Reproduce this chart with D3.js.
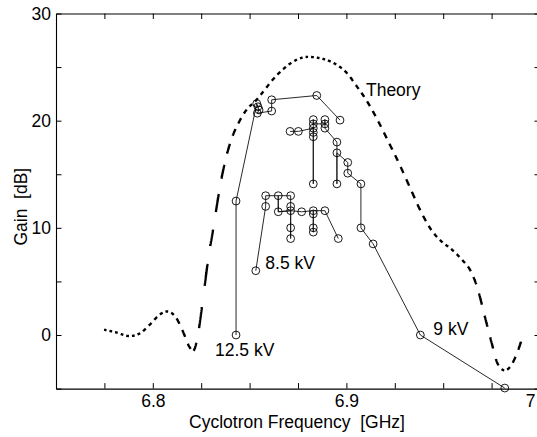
<!DOCTYPE html>
<html><head><meta charset="utf-8">
<script src="https://cdn.jsdelivr.net/npm/d3@7"></script>
<style>
body{margin:0;background:#fff;}
svg{display:block;}
text{font-family:"Liberation Sans",Arial,Helvetica,sans-serif;fill:#000;}
</style></head><body>
<svg id="c" width="537" height="437"></svg>
<script>
// ---- data ----
const theoryFreq=[6.7747,6.7809,6.788,6.7933,6.7986,6.8039,6.8074,6.8119,6.8154,6.8189,6.8207,6.8234,6.8251,6.8269,6.8287,6.8313,6.834,6.8366,6.8402,6.8446,6.849,6.8526,6.857,6.8623,6.8676,6.8729,6.88,6.8871,6.8942,6.9005,6.9050,6.9100,6.9160,6.9218,6.9275,6.9330,6.9384,6.9437,6.949,6.9543,6.9596,6.9641,6.9676,6.9712,6.9747,6.9782,6.9818,6.9844,6.988,6.9906];
const theoryGain=[0.5,0.25,-0.1,0.15,1.0,1.95,2.2,1.65,0.4,-1.1,-1.5,0.1,2.25,4.75,7.2,10.0,13.1,15.6,18.05,19.9,21.15,21.75,22.7,23.9,24.85,25.55,25.95,25.8,25.3,24.4,23.3,22.0,20.1,18.0,15.9,13.7,11.55,9.85,8.75,8.0,7.05,6.0,4.45,1.95,-0.5,-2.7,-3.3,-3.0,-1.75,-0.4];

const freq125=[6.843,6.843,6.8537,6.8543,6.8549,6.8540,6.8614,6.8614,6.8847,6.8967];
const gain125=[0,12.5,21.6,21.3,21.0,20.7,20.9,21.95,22.35,20.05];

const freq9=[6.8709,6.8752,6.8829,6.8829,6.8829,6.8829,6.8829,6.8829,6.8889,6.8889,6.8889,6.8951,6.8951,6.8951,6.8951,6.9007,6.9007,6.9075,6.9075,6.9138,6.9382,6.9818];
const gain9=[19.0,19.0,19.3,18.9,18.5,14.1,20.1,19.7,19.7,20.1,19.3,18.0,17.0,14.1,17.0,16.1,15.1,14.1,10.0,8.5,0,-4.95];

const freq85=[6.8532,6.8583,6.8583,6.8648,6.8712,6.8712,6.8712,6.8712,6.8712,6.8712,6.8648,6.8648,6.8648,6.8712,6.8769,6.8829,6.8829,6.8829,6.8829,6.8829,6.8889,6.8958];
const gain85=[6.0,12.0,13.0,13.0,13.0,12.0,11.6,10.0,9.0,11.6,11.5,13.0,11.5,11.6,11.5,11.6,11.3,10.0,9.6,11.6,11.6,9.0];

const xMinorTicks=[6.775,6.8,6.825,6.85,6.875,6.9,6.925,6.95,6.975,7.0];
const xTickLabels={"6.8":"6.8","6.9":"6.9","7":"7"};
const yMinorTicks=[-5,0,5,10,15,20,25,30];
const yTickLabels={"0":"0","10":"10","20":"20","30":"30"};
const xTitle="Cyclotron Frequency  [GHz]";
const yTitle="Gain  [dB]";
const labels={s125:"12.5 kV",s9:"9 kV",s85:"8.5 kV",theory:"Theory"};

// ---- layout ----
const L=56,R=540,T=13.5,B=388.6;
const FS=17.5;
const svg=d3.select("#c");
const x=d3.scaleLinear().domain([6.75,7.0]).range([L,R]);
const y=d3.scaleLinear().domain([-5,30]).range([B,T]);

// axes
const fmtX=d=>{const k=String(+d.toFixed(3));return xTickLabels[k]||"";};
const fmtY=d=>yTickLabels[String(d)]||"";
const gx=svg.append("g").attr("transform",`translate(0,${B})`)
  .call(d3.axisBottom(x).tickValues(xMinorTicks).tickSizeInner(-5.5).tickSizeOuter(0).tickPadding(6).tickFormat(fmtX));
const gy=svg.append("g").attr("transform",`translate(${L},0)`)
  .call(d3.axisLeft(y).tickValues(yMinorTicks).tickSizeInner(-5.5).tickSizeOuter(0).tickPadding(5).tickFormat(fmtY));
const gt=svg.append("g").attr("transform",`translate(0,${T})`)
  .call(d3.axisTop(x).tickValues(xMinorTicks).tickSizeInner(-5.5).tickSizeOuter(0).tickFormat(""));
const gr=svg.append("g").attr("transform",`translate(${R},0)`)
  .call(d3.axisRight(y).tickValues(yMinorTicks).tickSizeInner(-5.5).tickSizeOuter(0).tickFormat(""));
[gx,gy,gt,gr].forEach(g=>{
  g.attr("font-family",null).attr("font-size",null);
  g.selectAll("path.domain").attr("stroke","#000").attr("stroke-width",1.1);
  g.selectAll(".tick line").attr("stroke","#000").attr("stroke-width",1);
  g.selectAll(".tick text").style("font-size",FS+"px");
});
gx.selectAll(".tick text").filter(d=>Math.abs(d-7)<1e-9).attr("text-anchor","end").attr("dx",-5);

svg.append("text").attr("x",297).attr("y",428).attr("text-anchor","middle")
  .style("font-size",FS+"px").style("white-space","pre").text(xTitle);
svg.append("text").attr("transform","translate(27,206.7) rotate(-90)").attr("text-anchor","middle")
  .style("font-size",FS+"px").style("white-space","pre").text(yTitle);

// theory curve: dots with fixed spacing along frequency (they stretch into dashes on steep parts)
const line=d3.line().x(d=>x(d[0])).y(d=>y(d[1])).curve(d3.curveMonotoneX);
const thPts=theoryFreq.map((f,i)=>[f,theoryGain[i]]);
const tmp=svg.append("path").attr("d",line(thPts)).attr("fill","none").attr("stroke","none");
const node=tmp.node();const len=node.getTotalLength();
const P=5.6,ON=0.52*P,x0=x(theoryFreq[0]);
let dStr="",inRun=false;
for(let s=0;s<=len;s+=0.25){
  const p=node.getPointAtLength(s);
  const ph=((p.x-x0)%P+P)%P;
  if(ph<ON){dStr+=(inRun?"L":"M")+p.x.toFixed(2)+","+p.y.toFixed(2);inRun=true;}
  else inRun=false;
}
tmp.remove();
svg.append("path").attr("d",dStr).attr("fill","none").attr("stroke","#000").attr("stroke-width",2.4);

// measured series
function drawSeries(fr,ga){
  const pts=fr.map((f,i)=>[f,ga[i]]);
  svg.append("path").attr("d",d3.line().x(d=>x(d[0])).y(d=>y(d[1]))(pts))
    .attr("fill","none").attr("stroke","#111").attr("stroke-width",0.9);
  const seen=new Set();
  const uniq=pts.filter(p=>{const k=p.join(",");if(seen.has(k))return false;seen.add(k);return true;});
  svg.append("g").selectAll("circle").data(uniq).join("circle")
    .attr("cx",d=>x(d[0])).attr("cy",d=>y(d[1])).attr("r",3.9)
    .attr("fill","none").attr("stroke","#000").attr("stroke-width",0.9);
}
drawSeries(freq125,gain125);
drawSeries(freq9,gain9);
drawSeries(freq85,gain85);

// labels
svg.append("text").attr("x",x(freq125[0])-21).attr("y",y(gain125[0])+21).style("font-size",FS+"px").text(labels.s125);
svg.append("text").attr("x",x(6.9382)+13).attr("y",y(0)).style("font-size",FS+"px").text(labels.s9);
svg.append("text").attr("x",x(freq85[0])+9.5).attr("y",y(gain85[0])-1.5).style("font-size",FS+"px").text(labels.s85);
svg.append("text").attr("x",x(6.9101)).attr("y",y(22.3)).style("font-size",FS+"px").text(labels.theory);
</script>
</body></html>
